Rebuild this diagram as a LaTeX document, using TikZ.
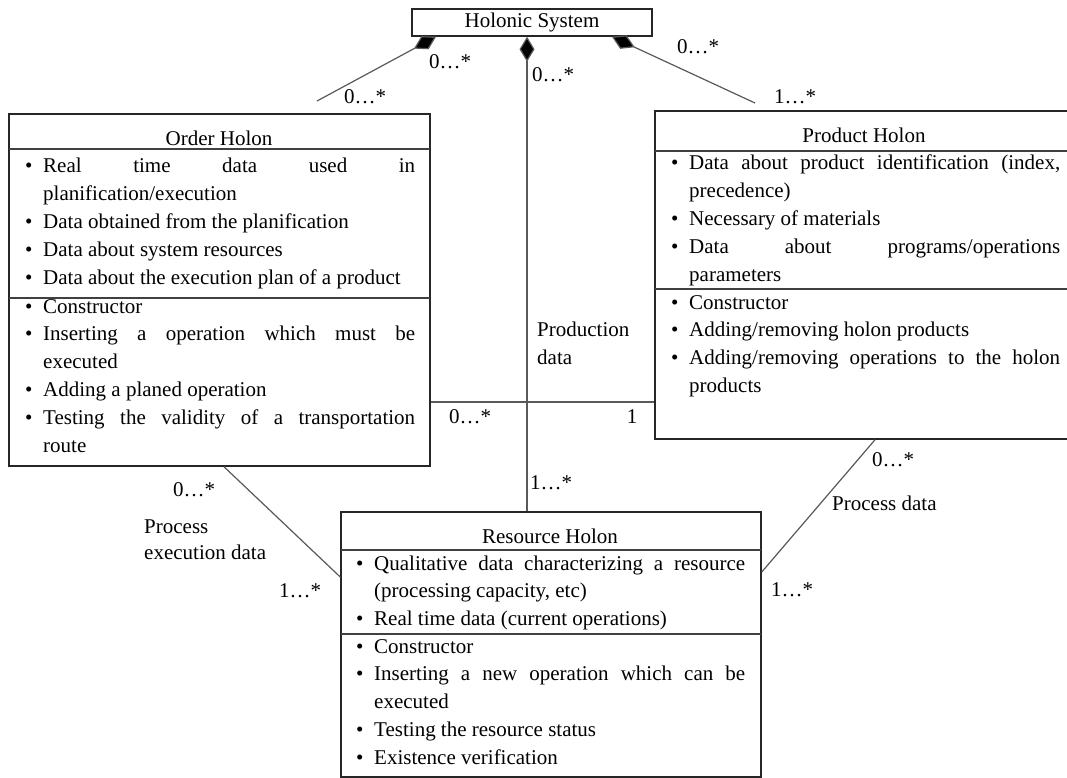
\documentclass[tikz,border=0pt]{standalone}
\usepackage{fontspec}
\setmainfont{Liberation Serif}
\usetikzlibrary{arrows.meta}
\newcommand\dfont{\fontsize{21pt}{27.8pt}\selectfont}
\newcommand\bitem[1]{\par\noindent\hangindent=18pt\hangafter=1\makebox[18pt][l]{\textbullet}#1}
\newcommand\blist[2]{\parbox[t]{#1}{\dfont\tolerance=10000\hyphenpenalty=10000\exhyphenpenalty=10000\parindent=0pt\parskip=0pt #2}}
\begin{document}
\begin{tikzpicture}[x=1pt,y=-1pt,
  box/.style={draw=black!85, line width=1.5pt, inner sep=0pt},
  sep/.style={draw=black!75, line width=1.5pt},
  conn/.style={draw=black!65, line width=1.2pt},
  comp/.style={conn, {Diamond[length=25pt,width=15pt,fill=black]}-},
  lbl/.style={inner sep=0pt, font=\dfont},
  title/.style={inner sep=0pt, font=\dfont, anchor=base},
  txt/.style={inner sep=0pt, anchor=base west}]
\useasboundingbox[fill=white] (0,0) rectangle (1067,778);

% boxes
\node[box, minimum width=240pt, minimum height=27pt, font=\dfont] (hs) at (532,22.5) {Holonic System};
\node[box, minimum width=421pt, minimum height=352pt] (order) at (219.5,290) {};
\node[box, minimum width=418pt, minimum height=328pt] (product) at (864,275) {};
\node[box, minimum width=420pt, minimum height=265pt] (resource) at (551,644.5) {};

% compartments
\draw[sep] (9,149) -- (430,149);
\draw[sep] (9,298) -- (430,298);
\draw[sep] (655,151) -- (1073,151);
\draw[sep] (655,289) -- (1073,289);
\draw[sep] (341,550) -- (761,550);
\draw[sep] (341,634) -- (761,634);

% titles
\node[title] (ot) at (219,146) {Order Holon};
\node[title] (pt) at (864,143) {Product Holon};
\node[title] (rt) at (550,543) {Resource Holon};

% contents
\node[txt] (oa) at (25,173) {\blist{390pt}{%
\bitem{Real time data used in \linebreak planification/execution}
\bitem{Data obtained from the planification}
\bitem{Data about system resources}
\bitem{Data about the execution plan of a product}}};
\node[txt] (oo) at (25,313) {\blist{390pt}{%
\bitem{Constructor}
\bitem{Inserting a operation which must be \linebreak executed}
\bitem{Adding a planed operation}
\bitem{Testing the validity of a transportation \linebreak route}}};
\node[txt] (pa) at (671,170) {\blist{389pt}{%
\bitem{Data about product identification (index, \linebreak precedence)}
\bitem{Necessary of materials}
\bitem{Data about programs/operations \linebreak parameters}}};
\node[txt] (po) at (671,309) {\blist{389pt}{%
\bitem{Constructor}
\bitem{Adding/removing holon products}
\bitem{Adding/removing operations to the holon \linebreak products}}};
\node[txt] (ra) at (356,570) {\blist{389pt}{%
\bitem{Qualitative data characterizing a resource \linebreak (processing capacity, etc)}
\bitem{Real time data (current operations)}}};
\node[txt] (ro) at (356,653) {\blist{389pt}{%
\bitem{Constructor}
\bitem{Inserting a new operation which can be \linebreak executed}
\bitem{Testing the resource status}
\bitem{Existence verification}}};

% connectors
\coordinate (oEnd) at (317,101);
\coordinate (pEnd) at (755,103);
\coordinate (hmid) at (0,402);
\coordinate (yA) at (0,577);
\coordinate (yB) at (0,572);
\draw[comp] ([xshift=-96pt]hs.south) -- (oEnd);
\draw[comp] ([xshift=-5pt]hs.south) -- ([xshift=-24pt]resource.north);
\draw[comp] ([xshift=80pt]hs.south) -- (pEnd);
\draw[conn] (order.east |- hmid) -- (product.west |- hmid);
\draw[conn] ([xshift=4.5pt]order.south) -- (resource.west |- yA);
\draw[conn] ([xshift=11pt]product.south) -- (resource.east |- yB);

% labels
\node[lbl] (m1) at (450,62) {0…*};
\node[lbl] (m2) at (365,97) {0…*};
\node[lbl] (m3) at (553,75) {0…*};
\node[lbl] (m4) at (698,47) {0…*};
\node[lbl] (m5) at (795,97) {1…*};
\node[lbl] (m6) at (470,417) {0…*};
\node[lbl] (m7) at (632,417) {1};
\node[lbl] (m8) at (551,483) {1…*};
\node[lbl] (m9) at (194,490) {0…*};
\node[lbl] (m10) at (300,591) {1…*};
\node[lbl] (m11) at (893,460) {0…*};
\node[lbl] (m12) at (792,590) {1…*};
\node[txt, font=\dfont] (pd1) at (537,336) {Production};
\node[txt, font=\dfont] (pd2) at (537,364) {data};
\node[txt, font=\dfont] (pe1) at (144,533) {Process};
\node[txt, font=\dfont] (pe2) at (144,559) {execution data};
\node[txt, font=\dfont] (prd) at (832,510) {Process data};
\end{tikzpicture}
\end{document}
